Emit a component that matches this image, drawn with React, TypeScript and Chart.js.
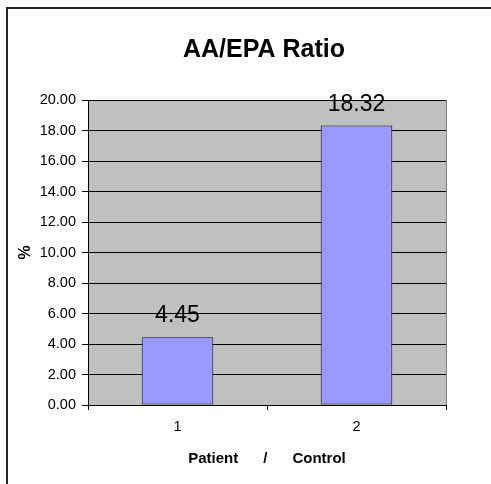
import React, { useEffect, useRef } from "react";
import { Chart, registerables } from "chart.js";

Chart.register(...registerables);

const categories: string[] = ["1", "2"];
const ratioValues: number[] = [4.45, 18.32];
const chartTitle = "AA/EPA Ratio";
const yAxisTitle = "%";
const xAxisTitle = "Patient      /      Control";
const yMin = 0;
const yMax = 20;
const yStep = 2;

const FONT = '"Liberation Sans", Arial, sans-serif';

const decorPlugin = {
  id: "decor",
  beforeDraw(chart: any) {
    const { ctx, chartArea } = chart;
    ctx.save();
    ctx.fillStyle = "#C0C0C0";
    ctx.fillRect(chartArea.left, chartArea.top, chartArea.right - chartArea.left, chartArea.bottom - chartArea.top);
    ctx.restore();
  },
  afterDraw(chart: any) {
    const { ctx, chartArea } = chart;
    ctx.save();
    // plot area right border (gray)
    ctx.strokeStyle = "#808080";
    ctx.lineWidth = 1;
    ctx.beginPath();
    ctx.moveTo(chartArea.right + 0.5, chartArea.top);
    ctx.lineTo(chartArea.right + 0.5, chartArea.bottom);
    ctx.stroke();
    // outer chart border (left & top visible)
    ctx.strokeStyle = "#222";
    ctx.lineWidth = 2;
    ctx.beginPath();
    ctx.moveTo(7, chart.height + 5);
    ctx.lineTo(7, 8);
    ctx.lineTo(chart.width + 5, 8);
    ctx.stroke();
    // title
    ctx.fillStyle = "#000";
    ctx.font = `bold 25px ${FONT}`;
    ctx.textAlign = "center";
    ctx.textBaseline = "middle";
    ctx.fillText(chartTitle, 264, 50);
    // data labels
    const meta = chart.getDatasetMeta(0);
    ctx.font = `23px ${FONT}`;
    ctx.textBaseline = "alphabetic";
    meta.data.forEach((bar: any, i: number) => {
      const v = chart.data.datasets[0].data[i] as number;
      ctx.fillText(v.toFixed(2), bar.x, bar.y - 15);
    });
    ctx.restore();
  },
};

export default function App() {
  const ref = useRef<HTMLCanvasElement>(null);
  useEffect(() => {
    if (!ref.current) return;
    const chart = new Chart(ref.current, {
      type: "bar",
      data: {
        labels: categories,
        datasets: [
          {
            data: ratioValues,
            backgroundColor: "#9999FF",
            borderColor: "#111",
            borderWidth: 1,
            borderSkipped: false,
            categoryPercentage: 1,
            barPercentage: 0.4,
          },
        ],
      },
      options: {
        responsive: false,
        animation: false,
        devicePixelRatio: 1,
        layout: { padding: { left: 0, top: 100, right: 45, bottom: 0 } },
        plugins: { legend: { display: false }, tooltip: { enabled: false }, title: { display: false } },
        scales: {
          x: {
            afterFit: (s: any) => {
              s.height = 79;
            },
            grid: { offset: true, drawOnChartArea: false, drawTicks: true, tickLength: 5, color: "#000" },
            border: { display: true, color: "#000", width: 1 },
            ticks: { color: "#000", font: { family: FONT, size: 14.5 }, padding: 8 },
            title: {
              display: true,
              text: xAxisTitle,
              color: "#000",
              font: { family: FONT, size: 15, weight: "bold" },
              padding: { top: 0, bottom: 16 },
            },
          },
          y: {
            min: yMin,
            max: yMax,
            afterFit: (s: any) => {
              s.width = 88;
            },
            grid: { color: "#000", drawTicks: true, tickLength: 6 },
            border: { display: true, color: "#000", width: 1 },
            ticks: {
              stepSize: yStep,
              color: "#000",
              font: { family: FONT, size: 14.5 },
              padding: 6,
              callback: (v: any) => Number(v).toFixed(2),
            },
            title: {
              display: true,
              text: yAxisTitle,
              color: "#000",
              font: { family: FONT, size: 16, weight: "bold" },
              padding: { top: 16, bottom: 0 },
            },
          },
        },
      },
      plugins: [decorPlugin],
    });
    return () => chart.destroy();
  }, []);
  return (
    <div style={{ position: "fixed", left: 0, top: 0, width: 491, height: 484 }}>
      <canvas ref={ref} width={491} height={484} style={{ width: 491, height: 484, display: "block" }} />
    </div>
  );
}
